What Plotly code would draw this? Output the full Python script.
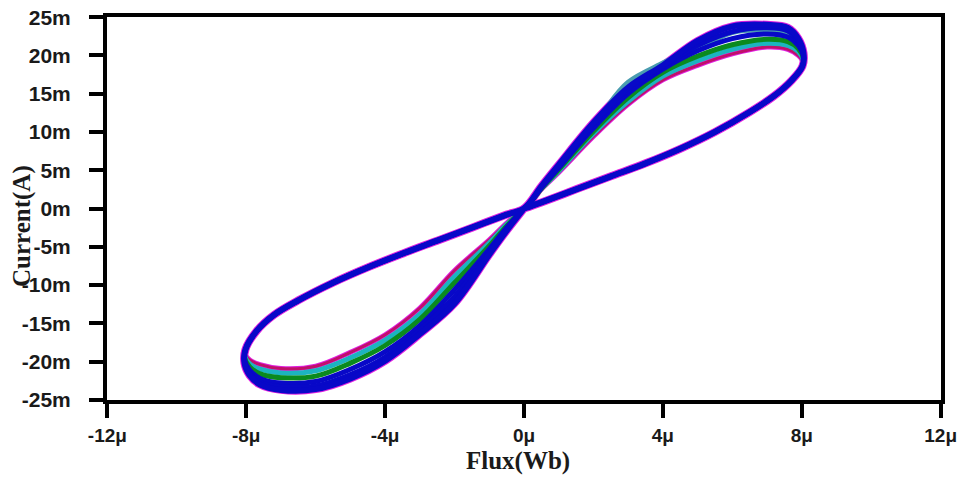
import plotly.graph_objects as go

# ---- data (flux in µWb, current in mA) ----
# upper lobe, steep (rising) branch, sampled at these flux values
UP_FLUX = [0, 0.5, 1, 2, 3, 4, 5, 6, 7, 7.6, 7.9, 8.05]
UP_RED   = [0, 2.5, 4.7, 9.4, 13.6, 16.8, 18.7, 20.2, 21.1, 20.8, 20.0, 19.0]
UP_CYAN  = [0, 2.6, 4.9, 9.8, 14.0, 17.3, 19.3, 20.8, 21.6, 21.3, 20.5, 19.3]
UP_GREEN = [0, 2.6, 5.1, 10.1, 14.5, 17.8, 19.9, 21.4, 22.1, 21.8, 20.9, 19.6]
UP_BLUE1 = [0, 2.7, 5.3, 10.5, 15.0, 18.2, 20.6, 22.2, 22.8, 22.4, 21.3, 19.9]
UP_BLUE2 = [0, 2.8, 5.5, 10.9, 15.4, 18.5, 21.3, 23.1, 23.6, 23.2, 21.8, 20.1]
UP_BLUE3 = [0, 2.9, 5.7, 11.2, 15.8, 18.7, 21.9, 23.8, 24.0, 23.6, 22.2, 20.3]
# outer teal cycle, starts part way up the branch
TEAL_FLUX = [2.45, 3, 4, 4.7, 5.3, 6, 7, 7.6, 7.9, 8.05]
TEAL_CUR  = [13.6, 16.5, 19.0, 20.5, 21.6, 23.0, 23.3, 22.9, 21.7, 20.0]

# upper lobe, shallow (return) branch, common to all cycles
UP_RET_FLUX = [8.02, 7.7, 7.2, 6.5, 5.5, 4.5, 3.5, 2.5, 1.5, 0.5, 0]
UP_RET_CUR  = [18.6, 16.7, 14.7, 12.6, 10.0, 7.8, 5.9, 4.2, 2.5, 0.8, 0]

# lower lobe, steep (falling) branch
LO_FLUX = [0, -0.5, -1, -2, -3, -4, -5, -6, -7, -7.6, -7.9, -8.05]
LO_RED   = [0, -1.9, -4.1, -8.1, -13.0, -16.5, -18.8, -20.6, -20.9, -20.4, -19.8, -18.9]
LO_CYAN  = [0, -2.1, -4.5, -8.9, -13.8, -17.2, -19.5, -21.2, -21.5, -21.0, -20.3, -19.2]
LO_GREEN = [0, -2.3, -4.9, -9.7, -14.5, -17.9, -20.2, -21.9, -22.1, -21.6, -20.7, -19.5]
LO_BLUE1 = [0, -2.5, -5.3, -10.6, -15.3, -18.7, -21.0, -22.6, -22.8, -22.2, -21.1, -19.8]
LO_BLUE2 = [0, -2.7, -5.7, -11.5, -15.9, -19.4, -21.7, -23.2, -23.3, -22.7, -21.5, -20.0]
LO_BLUE3 = [0, -2.9, -6.0, -12.4, -16.4, -19.9, -22.2, -23.6, -23.7, -23.0, -21.8, -20.2]

# lower lobe, shallow (return) branch
LO_RET_FLUX = [-8.02, -7.7, -7.2, -6.5, -5.5, -4.5, -3.5, -2.5, -1.5, -0.5, 0]
LO_RET_CUR  = [-18.4, -16.0, -13.9, -12.0, -9.7, -7.7, -5.9, -4.2, -2.5, -0.8, 0]

X_TICKS = [-12, -8, -4, 0, 4, 8, 12]
X_TICK_TEXT = ["-12\u03bc", "-8\u03bc", "-4\u03bc", "0\u03bc", "4\u03bc", "8\u03bc", "12\u03bc"]
Y_TICKS = [-25, -20, -15, -10, -5, 0, 5, 10, 15, 20, 25]
Y_TICK_TEXT = ["-25m", "-20m", "-15m", "-10m", "-5m", "0m", "5m", "10m", "15m", "20m", "25m"]

fig = go.Figure()


def cycle(up, lo):
    xs = UP_FLUX + UP_RET_FLUX + LO_FLUX + LO_RET_FLUX
    ys = up + UP_RET_CUR + lo + LO_RET_CUR
    return xs, ys


def add(xs, ys, color, width):
    fig.add_trace(go.Scatter(
        x=xs, y=ys, mode="lines",
        line=dict(color=color, width=width, shape="spline", smoothing=1.0),
        showlegend=False, hoverinfo="skip"))


# magenta fringe under everything
add(*cycle(UP_BLUE3, LO_BLUE3), "#e020e0", 8)
add(*cycle(UP_RED, LO_RED), "#e020e0", 5)
add(TEAL_FLUX, TEAL_CUR, "#4a9cb0", 5)
add(*cycle(UP_RED, LO_RED), "#c0106a", 3)
add(*cycle(UP_CYAN, LO_CYAN), "#1cb4c0", 5)
add(*cycle(UP_GREEN, LO_GREEN), "#0a8a1e", 5)
add(*cycle(UP_BLUE1, LO_BLUE1), "#0808c8", 5)
add(*cycle(UP_BLUE2, LO_BLUE2), "#0808c8", 5)
add(*cycle(UP_BLUE3, LO_BLUE3), "#0808c8", 6)

axis_common = dict(
    showline=True, linewidth=4, linecolor="black", mirror=True,
    ticks="outside", ticklen=14, tickwidth=4, tickcolor="black",
    showgrid=False, zeroline=False, ticklabeloverflow="allow",
    automargin=False,
)
tick_font = dict(family="Liberation Sans, Arial, sans-serif", color="#1a1a1a",
                 weight="bold")

fig.update_xaxes(range=[-12.01, 12.01], tickmode="array", tickvals=X_TICKS,
                 ticktext=X_TICK_TEXT, ticklabelstandoff=1,
                 tickfont=dict(size=19, **tick_font), **axis_common)
fig.update_yaxes(range=[-25.02, 25.02], tickmode="array", tickvals=Y_TICKS,
                 ticktext=Y_TICK_TEXT, ticklabelstandoff=14,
                 tickfont=dict(size=21, **tick_font), **axis_common)

# plot area: x 107..941, y 17..400 of the 959x477 window
L, T, PW, PH = 107, 17, 834, 383
W, H = 959, 477

title_font = dict(family="Liberation Serif, Times New Roman, serif", size=25,
                  color="#1a1a1a", weight="bold")
fig.add_annotation(text="Flux(Wb)", xref="paper", yref="paper",
                   x=(518 - L) / PW, y=(T + PH - 461) / PH,
                   xanchor="center", yanchor="middle", showarrow=False,
                   font=title_font)
fig.add_annotation(text="Current(A)", xref="paper", yref="paper",
                   x=(22 - L) / PW, y=(T + PH - 226) / PH,
                   xanchor="center", yanchor="middle", showarrow=False,
                   textangle=-90, font=title_font)

fig.update_layout(
    width=W, height=H,
    margin=dict(l=L, r=W - L - PW, t=T, b=H - T - PH, autoexpand=False),
    paper_bgcolor="white", plot_bgcolor="white",
)

fig.write_html(
    "out.html",
    config={"displayModeBar": False},
    post_script="document.body.style.margin='0px';"
                "document.body.style.overflow='hidden';",
)
